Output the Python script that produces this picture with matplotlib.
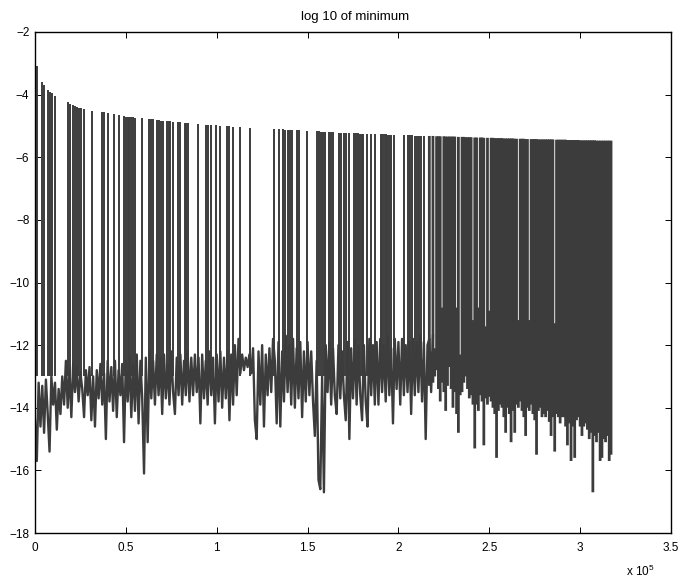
import numpy as np
import matplotlib
matplotlib.use("Agg")
import matplotlib.pyplot as plt

plt.rcParams['font.family'] = ['Liberation Sans', 'DejaVu Sans']
plt.rcParams['mathtext.fontset'] = 'custom'
plt.rcParams['mathtext.rm'] = 'Liberation Sans'

title = "log 10 of minimum"
x_ticks = [0, 0.5, 1, 1.5, 2, 2.5, 3, 3.5]
x_tick_labels = ["0", "0.5", "1", "1.5", "2", "2.5", "3", "3.5"]
y_ticks = [-18, -16, -14, -12, -10, -8, -6, -4, -2]
x_scale_label = r"x 10$^{\mathregular{5}}$"

# low-level noise band, sampled every 0.01 (x in units of 1e5) from 0 to 2.19
noise_y = [
    -14.4, -15.7, -13.2, -14.6, -13.3, -14.8, -13.1, -14.2, -15.4, -13.0,
    -13.9, -13.2, -14.7, -13.4, -14.2, -13.0, -13.9, -12.5, -14.0, -12.8,
    -14.3, -12.6, -13.5, -12.7, -13.8, -12.9, -13.4, -14.3, -12.8, -13.6,
    -12.7, -14.4, -13.0, -14.6, -12.8, -13.7, -12.6, -13.9, -12.9, -15.0,
    -12.5, -13.8, -12.7, -14.1, -12.5, -14.3, -12.8, -13.6, -12.6, -15.1,
    -12.5, -13.8, -12.4, -14.3, -12.6, -14.1, -12.3, -14.5, -12.5, -13.7,
    -16.1, -12.4, -15.1, -12.2, -13.7, -12.5, -13.9, -12.3, -13.6, -12.4,
    -14.2, -12.3, -13.7, -12.6, -13.9, -12.2, -13.5, -14.2, -12.4, -13.6,
    -12.3, -13.9, -12.5, -13.6, -12.2, -13.8, -12.4, -13.6, -12.3, -13.5,
    -12.4, -14.5, -12.3, -13.7, -12.5, -13.9, -12.2, -13.6, -12.4, -14.5,
    -12.3, -13.8, -12.2, -14.0, -12.4, -13.7, -12.2, -14.4, -12.3, -13.9,
    -12.0, -13.6, -11.8, -12.9, -12.3, -12.8, -12.4, -12.7, -12.3, -12.9,
    -12.1, -14.4, -15.0, -12.2, -13.9, -12.0, -14.6, -12.3, -13.6, -12.1,
    -13.5, -11.8, -12.5, -14.5, -11.9, -14.6, -12.2, -13.8, -11.7, -13.5,
    -12.0, -13.9, -11.8, -14.0, -12.1, -13.7, -11.9, -14.3, -12.2, -13.8,
    -11.9, -13.6, -12.2, -13.8, -14.9, -12.5, -16.3, -16.6, -13.0, -16.7,
    -12.0, -13.5, -11.9, -13.9, -12.1, -13.6, -14.2, -12.0, -13.7, -12.2,
    -13.6, -14.4, -11.9, -15.0, -12.1, -13.7, -11.8, -13.9, -12.0, -13.6,
    -14.4, -12.0, -13.8, -14.6, -11.8, -13.6, -12.0, -13.9, -11.9, -13.9,
    -11.8, -13.5, -12.0, -13.8, -11.7, -13.6, -12.1, -14.5, -11.8, -13.4,
    -11.9, -13.9, -11.8, -13.6, -12.0, -13.5, -11.9, -14.2, -11.8, -13.6,
    -11.9, -13.5, -11.7, -13.8, -11.9, -15.0, -12.0, -11.8, -13.5, -11.7,
]
noise_start, noise_end = 0.0, 2.19

# isolated upward spikes (x in units of 1e5, top value)
spike_x = [
    0.009, 0.040, 0.051, 0.073, 0.084, 0.094, 0.110, 0.182, 0.195, 0.208,
    0.219, 0.233, 0.244, 0.252, 0.272, 0.314, 0.366, 0.377, 0.404, 0.432,
    0.465, 0.492, 0.502, 0.511, 0.520, 0.529, 0.540, 0.553, 0.588, 0.628,
    0.641, 0.652, 0.673, 0.685, 0.695, 0.706, 0.726, 0.735, 0.744, 0.757,
    0.785, 0.797, 0.823, 0.832, 0.843, 0.897, 0.943, 0.954, 0.968, 0.998,
    1.020, 1.058, 1.069, 1.091, 1.130, 1.181, 1.318, 1.341, 1.363, 1.378,
    1.391, 1.406, 1.417, 1.443, 1.455, 1.498, 1.553, 1.564, 1.575, 1.586,
    1.597, 1.619, 1.630, 1.641, 1.672, 1.685, 1.700, 1.713, 1.727, 1.755,
    1.766, 1.777, 1.788, 1.799, 1.806, 1.828, 1.847, 1.869, 1.902, 1.911,
    1.920, 1.929, 1.939, 1.948, 1.961, 1.975, 2.030, 2.052, 2.063, 2.076,
    2.089, 2.100, 2.115, 2.126, 2.141,
]
spike_top = [
    -3.09, -3.61, -3.69, -3.85, -3.93, -3.96, -4.03, -4.25, -4.30, -4.32,
    -4.36, -4.39, -4.42, -4.44, -4.47, -4.52, -4.55, -4.56, -4.60, -4.62,
    -4.65, -4.69, -4.70, -4.71, -4.71, -4.72, -4.73, -4.74, -4.76, -4.78,
    -4.79, -4.79, -4.81, -4.82, -4.83, -4.83, -4.84, -4.85, -4.85, -4.86,
    -4.88, -4.88, -4.90, -4.90, -4.91, -4.94, -4.96, -4.96, -4.97, -4.98,
    -4.99, -5.00, -5.01, -5.02, -5.03, -5.06, -5.10, -5.11, -5.11, -5.12,
    -5.12, -5.13, -5.13, -5.14, -5.14, -5.16, -5.17, -5.17, -5.18, -5.18,
    -5.19, -5.20, -5.20, -5.20, -5.21, -5.22, -5.22, -5.23, -5.23, -5.24,
    -5.24, -5.24, -5.25, -5.25, -5.25, -5.26, -5.26, -5.26, -5.27, -5.27,
    -5.27, -5.27, -5.28, -5.28, -5.28, -5.28, -5.29, -5.30, -5.30, -5.30,
    -5.31, -5.31, -5.31, -5.32, -5.32,
]
spike_floor = -13.0

# densely packed oscillation at the end of the run
dense_x = [
    2.17, 2.18, 2.19, 2.20, 2.21, 2.22, 2.23, 2.24, 2.25, 2.26,
    2.27, 2.28, 2.29, 2.30, 2.31, 2.32, 2.33, 2.34, 2.35, 2.36,
    2.37, 2.38, 2.39, 2.40, 2.41, 2.42, 2.43, 2.44, 2.45, 2.46,
    2.47, 2.48, 2.49, 2.50, 2.51, 2.52, 2.53, 2.54, 2.55, 2.56,
    2.57, 2.58, 2.59, 2.60, 2.61, 2.62, 2.63, 2.64, 2.65, 2.66,
    2.67, 2.68, 2.69, 2.70, 2.71, 2.72, 2.73, 2.74, 2.75, 2.76,
    2.77, 2.78, 2.79, 2.80, 2.81, 2.82, 2.83, 2.84, 2.85, 2.86,
    2.87, 2.88, 2.89, 2.90, 2.91, 2.92, 2.93, 2.94, 2.95, 2.96,
    2.97, 2.98, 2.99, 3.00, 3.01, 3.02, 3.03, 3.04, 3.05, 3.06,
    3.07, 3.08, 3.09, 3.10, 3.11, 3.12, 3.13, 3.14, 3.15, 3.16, 3.17,
]
dense_top = [
    -5.32, -12.2, -5.32, -12.1, -5.33, -5.33, -5.33, -10.8, -5.33, -5.34,
    -5.34, -5.34, -5.34, -5.34, -5.34, -10.8, -5.35, -12.3, -5.35, -5.35,
    -5.36, -5.36, -5.36, -5.36, -11.2, -5.37, -5.37, -10.8, -5.37, -5.37,
    -5.38, -11.4, -5.38, -10.9, -5.38, -5.38, -5.39, -5.39, -5.39, -5.39,
    -5.39, -5.40, -5.40, -5.40, -5.40, -5.40, -5.40, -5.41, -5.41, -11.2,
    -5.41, -5.41, -5.41, -5.42, -5.42, -11.2, -5.42, -5.42, -5.42, -5.42,
    -5.43, -5.43, -5.43, -5.43, -5.43, -5.43, -5.43, -5.43, -5.43, -11.3,
    -5.44, -5.44, -5.44, -5.44, -5.44, -5.44, -5.45, -5.45, -5.45, -5.45,
    -5.45, -5.45, -5.45, -5.46, -5.46, -5.46, -5.46, -5.46, -5.46, -5.46,
    -5.46, -5.46, -5.47, -5.47, -5.47, -5.47, -5.47, -5.47, -5.47, -5.47, -5.47,
]
dense_low = [
    -13.3, -12.9, -13.2, -13.0, -12.8, -13.4, -13.8, -13.2, -13.5, -14.1,
    -13.3, -12.7, -13.4, -14.0, -13.5, -14.2, -14.8, -13.6, -13.5, -13.2,
    -13.0, -13.4, -13.7, -13.6, -13.9, -15.3, -13.9, -14.1, -13.6, -13.8,
    -15.2, -13.7, -13.9, -13.65, -13.8, -14.0, -14.2, -15.6, -14.1, -13.9,
    -14.0, -14.3, -14.8, -14.0, -14.2, -15.1, -14.1, -14.8, -13.9, -14.0,
    -13.8, -14.1, -14.3, -14.9, -14.0, -14.1, -13.9, -14.2, -14.4, -15.5,
    -14.1, -14.0, -14.3, -14.2, -14.3, -14.1, -14.45, -14.9, -14.3, -15.4,
    -14.2, -14.3, -14.5, -14.3, -14.3, -14.6, -15.2, -14.5, -15.7, -14.6,
    -15.6, -14.4, -14.3, -14.6, -14.9, -14.6, -14.5, -14.7, -15.0, -14.8,
    -16.7, -14.9, -15.1, -14.8, -15.7, -15.6, -15.0, -15.1, -14.9, -15.7, -15.5,
]

line_color = "#3c3c3c"

fig = plt.figure(figsize=(6.84, 5.80), dpi=100)
ax = fig.add_axes([35 / 684, 1 - 533 / 580, 636 / 684, 501 / 580])

noise_x = np.linspace(noise_start, noise_end, len(noise_y))
ax.plot(noise_x, noise_y, color=line_color, lw=1.7)
ax.vlines(spike_x, spike_floor, spike_top, color=line_color, lw=1.4)
ax.vlines(dense_x, dense_low, dense_top, color=line_color, lw=2.0, snap=False)

ax.set_xlim(0, 3.5)
ax.set_ylim(-18, -2)
ax.set_xticks(x_ticks)
ax.set_xticklabels(x_tick_labels)
ax.set_yticks(y_ticks)
ax.tick_params(direction="in", length=4.5, width=0.7, top=True, right=True,
               labelsize=8.5, colors="black")
ax.tick_params(axis="x", pad=6.5)
ax.tick_params(axis="y", pad=4)
for s in ax.spines.values():
    s.set_linewidth(1.0)
    s.set_color("black")

fig.text(355 / 684, 1 - 20 / 580, title, ha="center", va="baseline", fontsize=9.5)
fig.text(640 / 684, 1 - 571 / 580, x_scale_label, ha="center", va="center", fontsize=8.5)

fig.savefig("out.png", dpi=100)
